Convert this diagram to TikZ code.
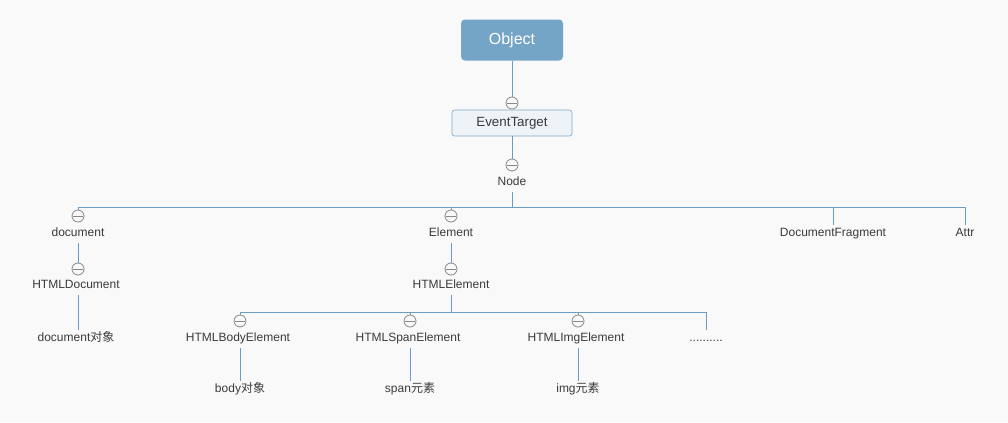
\documentclass[tikz,border=0pt]{standalone}
\usepackage{fontspec}
\setmainfont{Liberation Sans}
\newfontfamily\cjk{Noto Sans CJK SC}
\usepackage{xcolor}
\usetikzlibrary{positioning, calc}
\definecolor{bgcol}{HTML}{F9F9F9}
\definecolor{linkblue}{HTML}{6A9DC6}
\definecolor{rootfill}{HTML}{74A4C6}
\definecolor{boxfill}{HTML}{EEF3F7}
\definecolor{boxline}{HTML}{7EAACB}
\definecolor{txtcol}{HTML}{3A3A3A}
\definecolor{knob}{HTML}{888888}

\begin{document}
\begin{tikzpicture}[x=0.75pt, y=-0.75pt,
  every node/.style={font=\fontsize{9}{11}\selectfont, text=txtcol},
  label/.style={inner sep=2pt, text height=6.5pt, text depth=2.5pt},
  root/.style={fill=rootfill, rounded corners=3pt, minimum width=76.5pt, minimum height=30.75pt, font=\fontsize{12}{14}\selectfont, text=white},
  box/.style={draw=boxline, fill=boxfill, rounded corners=2pt, minimum width=90pt, minimum height=19.5pt, line width=0.5pt, font=\fontsize{10}{12}\selectfont},
  collapse/.style={circle, draw=knob, fill=bgcol, line width=0.6pt, minimum size=9pt, inner sep=0pt,
    path picture={\draw[knob, line width=0.6pt] ([xshift=0.6pt]path picture bounding box.west) -- ([xshift=-0.6pt]path picture bounding box.east);}},
  link/.style={draw=linkblue, line width=0.75pt}]
  \fill[bgcol] (0,0) rectangle (1008,422);

  % top of the tree
  \node[root] (object) at (512,40) {Object};
  \node[collapse] (etC) at (512,103) {};
  \node[box] (eventtarget) at (512,123) {EventTarget};
  \node[collapse] (nodeC) at (512,165) {};
  \node[label] (node) at (512,183) {Node};

  % children of Node
  \node[collapse] (docC) at (78,216) {};
  \node[label] (doc) at (78,234) {document};
  \node[collapse] (elemC) at (451,216) {};
  \node[label] (elem) at (451,234) {Element};
  \node[label] (frag) at (833,234) {DocumentFragment};
  \node[label] (attr) at (965,234) {Attr};

  % document branch
  \node[collapse] (htmldocC) at (78,269) {};
  \node[label] (htmldoc) at (76,286) {HTMLDocument};
  \node[label] (docobj) at (76,339) {document{\cjk 对象}};

  % element branch
  \node[collapse] (htmlelemC) at (451,269) {};
  \node[label] (htmlelem) at (451,286) {HTMLElement};
  \node[collapse] (bodyC) at (240,321) {};
  \node[label] (body) at (238,339) {HTMLBodyElement};
  \node[collapse] (spanC) at (410,321) {};
  \node[label] (span) at (408,339) {HTMLSpanElement};
  \node[collapse] (imgC) at (578,321) {};
  \node[label] (img) at (576,339) {HTMLImgElement};
  \node[label] (more) at (706,339) {..........};
  \node[label] (bodyobj) at (240,390) {body{\cjk 对象}};
  \node[label] (spanobj) at (410,390) {span{\cjk 元素}};
  \node[label] (imgobj) at (578,390) {img{\cjk 元素}};

  \coordinate (nodeBus) at (512,207);
  \coordinate (elemBus) at (451,312);

  \draw[link] (object) -- (etC);
  \draw[link] (eventtarget) -- (nodeC);
  \draw[link] (node) -- (nodeBus);
  \draw[link] (nodeBus) -| (docC);
  \draw[link] (nodeBus) -| (elemC);
  \draw[link] (nodeBus) -| (frag);
  \draw[link] (nodeBus) -| (attr);
  \draw[link] (doc) -- (htmldocC);
  \draw[link] (htmldoc.south -| htmldocC) -- (docobj.north -| htmldocC);
  \draw[link] (elem) -- (htmlelemC);
  \draw[link] (htmlelem) -- (elemBus);
  \draw[link] (elemBus) -| (bodyC);
  \draw[link] (elemBus) -| (spanC);
  \draw[link] (elemBus) -| (imgC);
  \draw[link] (elemBus) -| (more);
  \draw[link] (body.south -| bodyC) -- (bodyobj);
  \draw[link] (span.south -| spanC) -- (spanobj);
  \draw[link] (img.south -| imgC) -- (imgobj);
\end{tikzpicture}
\end{document}
